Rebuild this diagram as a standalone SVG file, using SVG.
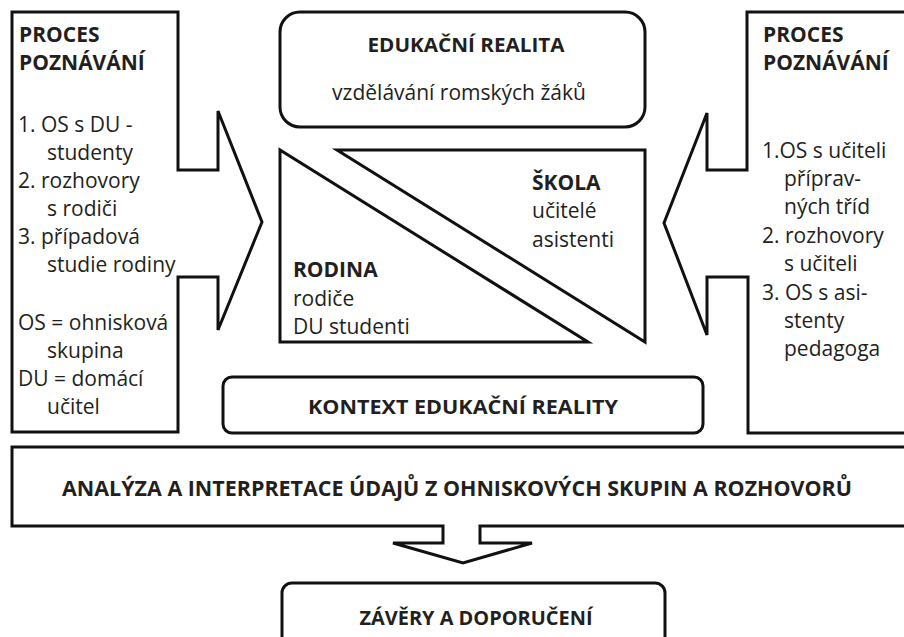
<svg xmlns="http://www.w3.org/2000/svg" width="904" height="637" viewBox="0 0 904 637">
<style>
.s{fill:#fff;stroke:#111;stroke-width:3;stroke-linejoin:miter}
.b{font-family:"Open Sans","Liberation Sans",sans-serif;font-weight:700;font-size:20px;fill:#231f20}
.t{font-family:"Open Sans","Liberation Sans",sans-serif;font-weight:700;font-size:21px;fill:#231f20}
.r{font-family:"Open Sans","Liberation Sans",sans-serif;font-weight:400;font-size:21px;fill:#231f20}
.m{text-anchor:middle}
</style>
<rect width="904" height="637" fill="#fff"/>
<g id="proces-left">
<polygon class="s" points="12,12 178,12 178,170 218,170 218,111 262,222 218,330 218,277 178,277 178,432 12,432"/>
<text class="t" x="19" y="42">PROCES</text>
<text class="t" x="19" y="70">POZNÁVÁNÍ</text>
<text class="r" x="18" y="132">1. OS s DU -</text>
<text class="r" x="47" y="160">studenty</text>
<text class="r" x="18" y="188">2. rozhovory</text>
<text class="r" x="47" y="216">s rodiči</text>
<text class="r" x="18" y="244">3. případová</text>
<text class="r" x="47" y="272">studie rodiny</text>
<text class="r" x="18" y="330">OS = ohnisková</text>
<text class="r" x="47" y="358">skupina</text>
<text class="r" x="18" y="386">DU = domácí</text>
<text class="r" x="47" y="414">učitel</text>
</g>
<g id="proces-right">
<polygon class="s" points="912,12 747,12 747,170 707,170 707,113 664,223 707,335 707,277 748,277 748,433 912,433"/>
<text class="t" x="763" y="42">PROCES</text>
<text class="t" x="763" y="70">POZNÁVÁNÍ</text>
<text class="r" x="762" y="158">1.OS s učiteli</text>
<text class="r" x="784" y="186">příprav-</text>
<text class="r" x="784" y="214">ných tříd</text>
<text class="r" x="762" y="243">2. rozhovory</text>
<text class="r" x="784" y="271">s učiteli</text>
<text class="r" x="762" y="300">3. OS s asi-</text>
<text class="r" x="784" y="328">stenty</text>
<text class="r" x="784" y="356">pedagoga</text>
</g>
<g id="edukacni-realita">
<rect class="s" x="280" y="12" width="365" height="115" rx="20"/>
<text class="b m" x="466" y="52" textLength="197" lengthAdjust="spacingAndGlyphs">EDUKAČNÍ REALITA</text>
<text class="r m" x="459" y="100">vzdělávání romských žáků</text>
</g>
<g id="rodina">
<polygon class="s" points="280,150 280,342 588,342"/>
<text class="t" x="293" y="277">RODINA</text>
<text class="r" x="293" y="306">rodiče</text>
<text class="r" x="293" y="334">DU studenti</text>
</g>
<g id="skola">
<polygon class="s" points="337,150 645,150 645,342"/>
<text class="t" x="532" y="190">ŠKOLA</text>
<text class="r" x="532" y="218">učitelé</text>
<text class="r" x="532" y="247">asistenti</text>
</g>
<g id="kontext">
<rect class="s" x="223" y="377" width="480" height="56" rx="9"/>
<text class="b m" x="463" y="414" textLength="310" lengthAdjust="spacingAndGlyphs">KONTEXT EDUKAČNÍ REALITY</text>
</g>
<g id="analyza">
<polygon class="s" points="12,447 912,447 912,526 480,526 480,543 532,543 463,563 393,543 443,543 443,526 12,526"/>
<text class="b m" x="457" y="496" style="font-size:21px" textLength="790" lengthAdjust="spacingAndGlyphs">ANALÝZA A INTERPRETACE ÚDAJŮ Z OHNISKOVÝCH SKUPIN A ROZHOVORŮ</text>
</g>
<g id="connectors"></g>
<g id="zavery">
<rect class="s" x="282" y="583" width="383" height="80" rx="10"/>
<text class="b m" x="476" y="625" textLength="233" lengthAdjust="spacingAndGlyphs">ZÁVĚRY A DOPORUČENÍ</text>
</g>
</svg>
